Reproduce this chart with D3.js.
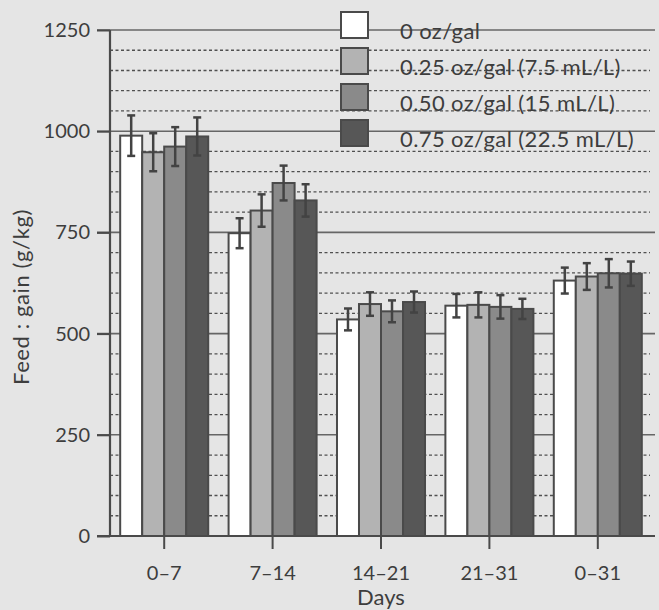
<!DOCTYPE html>
<html>
<head>
<meta charset="utf-8">
<script src="https://cdn.jsdelivr.net/npm/d3@7"></script>
<style>
  body { margin: 0; background: #e5e5e5; }
  text { font-family: Lato, "Open Sans", sans-serif; fill: #3d3d3d; }
</style>
</head>
<body>
<div id="chart"></div>
<script>
// chart values
var days = ["0–7", "7–14", "14–21", "21–31", "0–31"];
var series = ["0 oz/gal", "0.25 oz/gal (7.5 mL/L)", "0.50 oz/gal (15 mL/L)", "0.75 oz/gal (22.5 mL/L)"];

var feed_0 = [989, 748, 535, 569, 631];
var feed_25 = [948, 804, 573, 571, 641];
var feed_50 = [962, 872, 555, 566, 649];
var feed_75 = [987, 829, 578, 561, 648];

var err_0 = [50, 37, 27, 29, 32];
var err_25 = [47, 40, 29, 31, 33];
var err_50 = [48, 43, 27, 29, 35];
var err_75 = [47, 40, 26, 25, 30];

var y_ticks = [0, 250, 500, 750, 1000, 1250];
var y_minor = d3.range(50, 1250, 50).filter(v => v % 250 != 0);

var fills = ["#ffffff", "#b3b3b3", "#8a8a8a", "#575757"];

// set up chart parameters
var svg_width = 659;
var svg_height = 610;
var margin = { top: 30, right: 7, bottom: 74, left: 110 };
var width = svg_width - margin.left - margin.right;
var height = svg_height - margin.top - margin.bottom;

var svg = d3.select("#chart")
    .append("svg")
    .attr("width", svg_width)
    .attr("height", svg_height);

svg.append("rect")
    .attr("width", svg_width)
    .attr("height", svg_height)
    .attr("fill", "#e5e5e5");

var chart = svg.append("g")
    .attr("transform", `translate(${margin.left}, ${margin.top})`);

// scales
var x0 = d3.scaleBand()
    .domain(days)
    .range([0, width])
    .paddingInner(0.188)
    .paddingOuter(0.094);

var x1 = d3.scaleBand()
    .domain(d3.range(series.length))
    .range([0, x0.bandwidth()]);

var y = d3.scaleLinear()
    .domain([0, 1250])
    .range([height, 0]);

// build rows for the bars
var values = [feed_0, feed_25, feed_50, feed_75];
var errors = [err_0, err_25, err_50, err_75];
var rows = [];
days.forEach(function(d, i) {
    series.forEach(function(s, j) {
        rows.push({ day: d, s: j, value: values[j][i], err: errors[j][i] });
    });
});

// dashed minor gridlines
chart.selectAll(".minor")
    .data(y_minor)
    .enter()
    .append("line")
    .attr("x1", 0)
    .attr("x2", width - 2)
    .attr("y1", d => y(d))
    .attr("y2", d => y(d))
    .attr("stroke", "#505050")
    .attr("stroke-width", 1.3)
    .attr("stroke-dasharray", "3,2.5");

// solid major gridlines (start at tick mark left of axis)
chart.selectAll(".major")
    .data(y_ticks.filter(d => d > 0))
    .enter()
    .append("line")
    .attr("x1", -13)
    .attr("x2", width + 3)
    .attr("y1", d => y(d))
    .attr("y2", d => y(d))
    .attr("stroke", "#666")
    .attr("stroke-width", 1.6);

// bars
chart.selectAll(".bar")
    .data(rows)
    .enter()
    .append("rect")
    .attr("x", d => x0(d.day) + x1(d.s))
    .attr("y", d => y(d.value))
    .attr("width", x1.bandwidth())
    .attr("height", d => height - y(d.value))
    .attr("fill", d => fills[d.s])
    .attr("stroke", "#4a4a4a")
    .attr("stroke-width", 2);

// error bars
var err_g = chart.selectAll(".err")
    .data(rows)
    .enter()
    .append("g")
    .attr("stroke", "#434343")
    .attr("stroke-width", 2.5);

err_g.append("line")
    .attr("x1", d => x0(d.day) + x1(d.s) + x1.bandwidth() / 2)
    .attr("x2", d => x0(d.day) + x1(d.s) + x1.bandwidth() / 2)
    .attr("y1", d => y(d.value + d.err))
    .attr("y2", d => y(d.value - d.err));

err_g.append("line")
    .attr("x1", d => x0(d.day) + x1(d.s) + x1.bandwidth() / 2 - 4)
    .attr("x2", d => x0(d.day) + x1(d.s) + x1.bandwidth() / 2 + 4)
    .attr("y1", d => y(d.value + d.err))
    .attr("y2", d => y(d.value + d.err));

err_g.append("line")
    .attr("x1", d => x0(d.day) + x1(d.s) + x1.bandwidth() / 2 - 4)
    .attr("x2", d => x0(d.day) + x1(d.s) + x1.bandwidth() / 2 + 4)
    .attr("y1", d => y(d.value - d.err))
    .attr("y2", d => y(d.value - d.err));

// axes
var left_axis = d3.axisLeft(y)
    .tickValues(y_ticks)
    .tickFormat(d3.format("d"))
    .tickSize(13)
    .tickPadding(7);

var y_axis = chart.append("g")
    .call(left_axis);

var bottom_axis = d3.axisBottom(x0)
    .tickSize(13)
    .tickPadding(17);

var x_axis = chart.append("g")
    .attr("transform", `translate(0, ${height})`)
    .call(bottom_axis);

y_axis.select(".domain").remove();
x_axis.select(".domain").remove();

chart.append("line")
    .attr("x1", 0).attr("x2", 0)
    .attr("y1", 0).attr("y2", height + 1)
    .attr("stroke", "#4a4a4a")
    .attr("stroke-width", 2.2);

chart.append("line")
    .attr("x1", -13).attr("x2", width + 3)
    .attr("y1", height).attr("y2", height)
    .attr("stroke", "#4a4a4a")
    .attr("stroke-width", 2.2);

svg.selectAll(".tick line")
    .attr("stroke", "#4a4a4a")
    .attr("stroke-width", 2);

svg.selectAll(".tick text")
    .attr("font-size", 20)
    .style("font-family", "Lato, 'Open Sans', sans-serif")
    .attr("fill", "#3d3d3d");

// axis labels
svg.append("text")
    .attr("transform", "translate(29, 297) rotate(-90)")
    .attr("text-anchor", "middle")
    .attr("font-size", 22)
    .attr("letter-spacing", 0.6)
    .text("Feed : gain (g/kg)");

svg.append("text")
    .attr("x", margin.left + x0("14–21") + x0.bandwidth() / 2)
    .attr("y", 605)
    .attr("text-anchor", "middle")
    .attr("font-size", 22)
    .text("Days");

// legend
var legend = svg.append("g")
    .attr("transform", "translate(341, 12)");

var legend_rows = legend.selectAll(".legend")
    .data(series)
    .enter()
    .append("g")
    .attr("transform", (d, i) => `translate(0, ${i * 36})`);

legend_rows.append("rect")
    .attr("width", 27)
    .attr("height", 26)
    .attr("fill", (d, i) => fills[i])
    .attr("stroke", "#4a4a4a")
    .attr("stroke-width", 2);

legend_rows.append("text")
    .attr("x", 59)
    .attr("y", 27)
    .attr("font-size", 22)
    .attr("letter-spacing", 0.4)
    .text(d => d);
</script>
</body>
</html>
